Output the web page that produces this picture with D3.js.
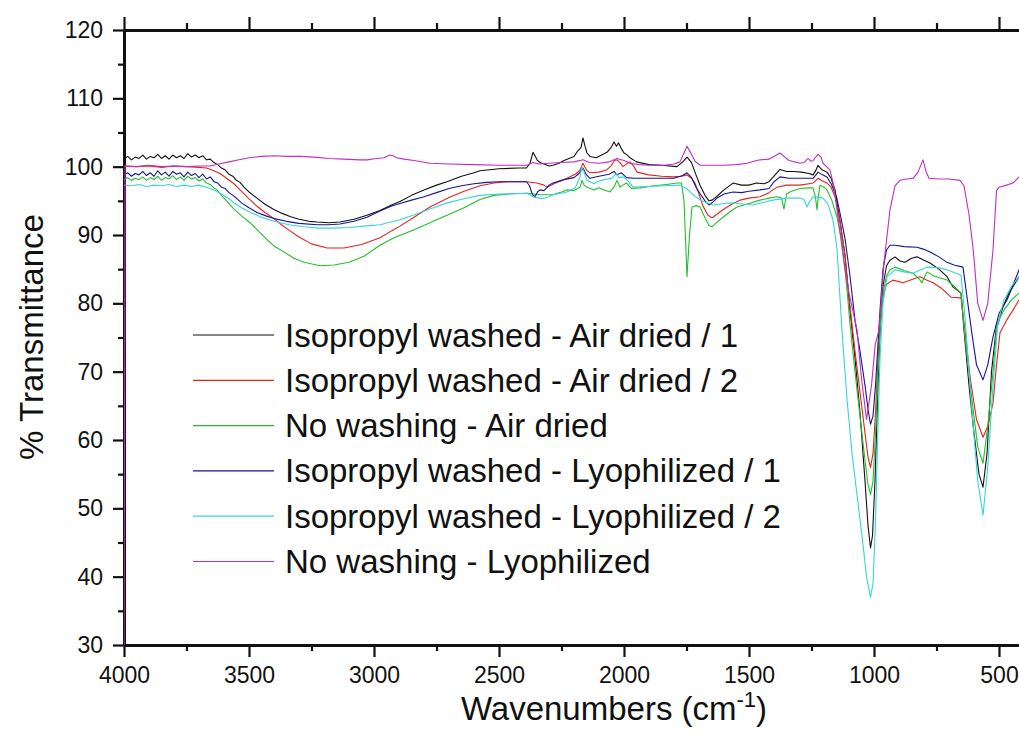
<!DOCTYPE html>
<meta charset="utf-8">
<script src="https://d3js.org/d3.v7.min.js"></script>
<style>
  body { margin: 0; background: #fff; }
  text { font-family: Arial, "Liberation Sans", sans-serif; fill: #111; }
</style>
<div id="my_dataviz"></div>
<script>

// legend labels and colours, in drawing order
var seriesNames = ["Isopropyl washed - Air dried / 1", "Isopropyl washed - Air dried / 2", "No washing - Air dried",
                   "Isopropyl washed - Lyophilized / 1", "Isopropyl washed - Lyophilized / 2", "No washing - Lyophilized"]
var seriesColors = ["#111111", "#e0251f", "#22c02a", "#16168f", "#35d6d6", "#c22ec2"]

// tick labels
var xTicks = [4000, 3500, 3000, 2500, 2000, 1500, 1000, 500]
var xMinor = [3750, 3250, 2750, 2250, 1750, 1250, 750]
var yTicks = [30, 40, 50, 60, 70, 80, 90, 100, 110, 120]
var yMinor = [35, 45, 55, 65, 75, 85, 95, 105, 115]

// spectra: [wavenumber, % transmittance]
var airDried1 = [[4000,101.2],[3985,101.5],[3970,101.0],[3955,101.4],[3940,101.2],[3925,101.7],[3910,101.1],[3895,101.5],[3880,101.3],[3865,101.8],[3850,101.2],[3835,101.6],[3820,101.1],[3805,101.7],[3790,101.3],[3775,101.6],[3760,101.2],[3745,101.9],[3730,101.4],[3715,101.7],[3700,101.3],[3685,101.6],[3670,101.0],[3655,101.1],[3640,100.6],[3625,100.3],[3610,99.8],[3595,99.5],[3580,98.9],[3565,98.6],[3550,98.0],[3536,97.7],[3520,97.0],[3500,96.3],[3468,95.4],[3436,94.5],[3404,93.8],[3370,93.2],[3336,92.7],[3300,92.3],[3260,92.0],[3228,91.9],[3180,91.8],[3136,91.9],[3080,92.3],[3028,92.9],[2976,93.6],[2930,94.4],[2896,94.9],[2850,95.8],[2800,96.6],[2750,97.3],[2708,97.8],[2650,98.6],[2600,99.1],[2576,99.4],[2500,99.7],[2420,99.8],[2390,99.8],[2376,100.5],[2364,102.1],[2356,101.6],[2348,101.0],[2336,100.6],[2320,100.4],[2300,100.1],[2284,100.2],[2260,100.5],[2240,100.9],[2220,101.2],[2200,101.5],[2185,102.3],[2172,102.8],[2164,104.2],[2156,103.0],[2148,102.0],[2136,101.5],[2110,101.3],[2090,101.7],[2068,102.1],[2050,102.9],[2040,103.6],[2030,103.0],[2022,103.5],[2010,102.6],[2000,102.0],[1990,101.8],[1976,101.3],[1950,100.7],[1900,100.3],[1850,100.2],[1788,100.0],[1765,100.7],[1748,101.4],[1730,100.6],[1712,98.8],[1695,97.2],[1676,95.8],[1660,95.0],[1648,95.1],[1630,95.6],[1600,96.6],[1564,97.6],[1530,97.3],[1500,97.3],[1470,97.6],[1440,97.5],[1420,97.8],[1400,98.6],[1376,99.6],[1350,99.3],[1320,99.3],[1290,99.2],[1260,99.0],[1244,98.8],[1232,99.5],[1224,100.2],[1210,99.6],[1188,99.2],[1172,98.3],[1156,96.6],[1136,92.0],[1116,87.0],[1096,79.0],[1076,72.0],[1056,64.0],[1036,54.0],[1024,47.5],[1014,44.2],[1006,46.0],[996,54.0],[984,68.0],[976,76.0],[964,82.5],[950,85.5],[936,86.3],[916,86.8],[896,86.2],[876,86.0],[850,86.6],[828,86.8],[800,86.3],[776,85.9],[740,85.0],[708,83.9],[684,82.4],[652,81.5],[640,76.1],[620,68.0],[600,61.0],[580,55.0],[564,53.1],[548,58.0],[530,70.0],[512,76.0],[484,79.5],[460,81.5],[420,83.9],[400,85.0]]

var airDried2 = [[4000,100.1],[3950,100.0],[3900,100.1],[3850,99.9],[3800,100.1],[3750,100.0],[3700,99.9],[3670,99.8],[3640,99.4],[3616,99.0],[3590,98.3],[3560,97.5],[3536,96.6],[3500,95.3],[3468,94.2],[3436,93.3],[3404,92.5],[3370,91.5],[3336,90.6],[3300,89.7],[3250,88.7],[3188,88.1],[3120,88.1],[3050,88.6],[2976,89.6],[2930,90.6],[2896,91.3],[2840,92.6],[2776,94.1],[2700,95.5],[2640,96.4],[2576,97.2],[2520,97.6],[2468,97.8],[2390,97.8],[2348,97.6],[2320,97.3],[2308,97.0],[2280,97.5],[2228,98.3],[2190,99.0],[2176,99.5],[2164,100.5],[2150,99.5],[2136,99.1],[2100,99.2],[2070,99.5],[2050,100.2],[2038,100.9],[2028,101.0],[2016,100.6],[2004,100.0],[1990,100.4],[1976,100.7],[1960,100.0],[1948,99.2],[1900,98.8],[1850,98.6],[1804,98.5],[1770,98.6],[1748,98.8],[1730,98.3],[1716,97.6],[1700,96.0],[1685,94.3],[1664,92.9],[1648,92.5],[1630,93.0],[1604,93.7],[1570,94.5],[1536,95.1],[1500,95.4],[1456,95.6],[1420,96.2],[1388,97.0],[1350,97.3],[1296,97.3],[1260,97.5],[1244,97.6],[1224,98.3],[1206,97.9],[1188,97.6],[1172,97.0],[1156,95.6],[1136,92.0],[1116,87.0],[1096,79.5],[1076,73.0],[1056,67.0],[1036,61.0],[1024,57.5],[1014,56.0],[1004,58.0],[994,64.0],[984,72.0],[976,77.0],[964,81.0],[950,82.8],[924,83.4],[884,83.0],[848,83.5],[816,83.9],[790,83.4],[764,83.0],[730,82.2],[692,80.9],[652,80.8],[636,76.0],[615,69.0],[590,63.0],[564,60.4],[545,62.0],[524,65.4],[510,71.0],[496,75.7],[470,77.5],[444,79.0],[420,80.5],[400,81.5]]

var noWashAir = [[4000,98.1],[3985,98.4],[3970,98.0],[3955,98.3],[3940,98.1],[3925,98.5],[3910,98.0],[3895,98.4],[3880,98.1],[3865,98.6],[3850,98.0],[3835,98.4],[3820,98.2],[3805,98.7],[3790,98.1],[3775,98.5],[3760,98.0],[3745,98.6],[3730,98.2],[3715,98.4],[3700,97.9],[3685,98.2],[3670,97.6],[3655,97.4],[3640,96.9],[3628,96.6],[3610,95.8],[3590,95.0],[3560,93.8],[3530,92.8],[3496,91.8],[3460,90.5],[3430,89.4],[3400,88.4],[3364,87.6],[3320,86.6],[3280,86.0],[3216,85.5],[3160,85.6],[3100,86.0],[3040,86.9],[2976,88.5],[2920,89.6],[2844,90.7],[2776,91.8],[2708,92.9],[2640,94.0],[2576,95.2],[2520,95.8],[2460,96.0],[2388,96.1],[2336,95.9],[2284,95.9],[2250,96.3],[2228,96.6],[2200,96.5],[2176,97.0],[2168,98.0],[2160,97.3],[2148,97.0],[2120,96.6],[2100,96.9],[2080,96.6],[2056,96.3],[2040,97.0],[2028,98.0],[2016,97.0],[2004,97.3],[1990,97.6],[1970,96.8],[1936,96.9],[1880,97.2],[1830,97.4],[1788,97.6],[1770,97.6],[1760,95.0],[1748,83.9],[1738,90.0],[1728,94.1],[1710,94.3],[1696,94.1],[1680,92.8],[1660,91.4],[1648,91.2],[1630,91.8],[1604,92.6],[1576,93.4],[1548,94.1],[1500,94.6],[1456,95.1],[1420,95.4],[1388,95.6],[1370,95.4],[1360,93.8],[1350,96.0],[1330,96.4],[1296,96.8],[1260,96.9],[1244,96.9],[1234,95.5],[1228,93.7],[1222,95.8],[1216,97.3],[1200,97.0],[1188,96.6],[1168,95.0],[1148,92.6],[1128,89.0],[1108,82.0],[1096,77.0],[1076,70.0],[1056,63.5],[1036,57.0],[1024,53.5],[1014,52.0],[1004,54.0],[994,61.0],[984,70.0],[976,76.0],[964,81.5],[950,84.0],[936,84.9],[916,85.3],[880,84.8],[844,84.4],[820,83.6],[808,83.0],[796,84.0],[788,84.6],[760,84.0],[708,83.4],[680,82.5],[652,81.5],[636,75.0],[612,67.0],[585,59.0],[564,56.6],[545,62.0],[524,70.0],[508,77.1],[480,79.0],[450,80.5],[420,81.5],[400,82.5]]

var lyophilized1 = [[4000,98.8],[3985,99.1],[3970,98.6],[3955,99.0],[3940,98.8],[3925,99.3],[3910,98.7],[3895,99.1],[3880,98.6],[3865,99.4],[3850,98.8],[3835,99.2],[3820,98.6],[3805,99.3],[3790,98.9],[3775,99.1],[3760,98.5],[3745,99.2],[3730,98.7],[3715,99.0],[3700,98.4],[3685,98.9],[3670,98.2],[3655,98.5],[3640,97.8],[3625,97.6],[3610,97.0],[3595,96.8],[3580,96.2],[3564,95.8],[3548,95.3],[3530,94.7],[3500,94.0],[3468,93.3],[3432,92.8],[3400,92.4],[3350,92.0],[3300,91.7],[3228,91.5],[3180,91.5],[3136,91.6],[3080,92.0],[3028,92.6],[2976,93.5],[2932,94.2],[2896,94.6],[2850,95.1],[2800,95.6],[2750,96.2],[2700,96.8],[2650,97.2],[2600,97.5],[2550,97.7],[2500,97.8],[2420,97.8],[2390,97.8],[2378,97.2],[2366,95.9],[2356,95.6],[2346,96.3],[2336,96.6],[2320,96.5],[2300,97.3],[2284,97.6],[2240,98.1],[2200,98.4],[2180,99.0],[2164,99.8],[2152,98.9],[2136,98.3],[2100,98.6],[2060,98.9],[2040,99.3],[2028,98.8],[2010,99.1],[1990,98.4],[1960,98.3],[1900,98.3],[1800,98.3],[1765,98.7],[1748,99.1],[1730,98.4],[1712,97.0],[1695,96.0],[1676,95.0],[1660,94.4],[1645,94.8],[1624,95.5],[1600,96.0],[1564,96.3],[1530,96.2],[1500,96.4],[1456,96.6],[1420,96.8],[1400,97.8],[1376,98.5],[1340,98.3],[1300,98.3],[1244,98.3],[1232,98.8],[1224,99.2],[1206,98.8],[1188,98.5],[1170,97.4],[1150,95.6],[1136,93.2],[1116,89.5],[1096,84.0],[1076,77.5],[1056,73.0],[1036,68.0],[1024,64.5],[1014,62.3],[1004,63.5],[994,68.0],[984,74.0],[976,79.0],[964,85.0],[950,87.8],[936,88.5],[916,88.5],[880,88.3],[828,88.2],[800,87.9],[776,87.5],[740,86.8],[708,86.0],[680,85.6],[644,85.3],[628,80.9],[610,76.0],[590,71.0],[564,68.8],[545,71.0],[524,75.1],[500,78.5],[468,80.5],[440,83.0],[420,84.9],[400,86.0]]

var lyophilized2 = [[4000,97.3],[3970,97.2],[3940,97.4],[3910,97.1],[3880,97.3],[3850,97.2],[3820,97.4],[3790,97.1],[3760,97.3],[3730,97.1],[3700,97.3],[3670,97.0],[3640,96.6],[3610,96.0],[3580,95.3],[3564,94.8],[3530,94.0],[3500,93.4],[3450,92.6],[3400,92.0],[3340,91.5],[3280,91.2],[3220,91.0],[3164,91.0],[3100,91.1],[3040,91.3],[2976,91.5],[2900,92.2],[2844,92.9],[2776,93.8],[2708,94.7],[2640,95.3],[2576,95.8],[2500,96.0],[2388,96.1],[2364,95.6],[2340,95.4],[2324,95.3],[2300,95.6],[2284,95.9],[2228,96.3],[2195,96.9],[2176,98.5],[2168,100.0],[2156,98.8],[2148,98.0],[2120,97.5],[2108,97.8],[2080,98.1],[2050,98.3],[2030,99.0],[2020,98.4],[2004,98.5],[1985,98.0],[1964,97.0],[1900,97.1],[1840,97.2],[1776,97.3],[1750,96.8],[1724,95.9],[1690,95.0],[1644,94.4],[1600,94.6],[1564,94.7],[1520,94.5],[1484,94.4],[1440,94.8],[1404,95.1],[1350,95.4],[1296,95.4],[1280,95.2],[1268,94.1],[1256,95.0],[1244,95.6],[1224,95.5],[1204,95.4],[1184,94.5],[1164,92.2],[1148,88.0],[1128,76.0],[1108,66.0],[1088,58.0],[1068,52.0],[1048,46.0],[1030,40.0],[1014,37.0],[1004,39.0],[994,48.0],[984,62.0],[976,72.0],[964,80.0],[948,83.9],[916,84.9],[880,84.6],[844,84.4],[788,85.3],[740,85.2],[708,84.9],[680,84.5],[652,84.1],[636,78.0],[612,66.0],[585,54.0],[564,49.0],[545,56.0],[524,68.0],[505,77.0],[480,80.5],[450,82.5],[420,83.9],[400,84.5]]

var noWashLyo = [[4000,22],[3996,100.1],[3950,100.0],[3900,100.2],[3850,100.0],[3800,100.1],[3750,100.0],[3700,100.1],[3656,100.1],[3620,100.4],[3580,100.7],[3540,101.0],[3500,101.3],[3450,101.5],[3400,101.6],[3350,101.5],[3296,101.5],[3240,101.4],[3180,101.2],[3120,101.1],[3060,101.0],[3028,101.0],[2990,101.2],[2960,101.3],[2936,101.7],[2924,101.6],[2910,101.3],[2880,101.1],[2840,100.9],[2776,100.5],[2700,100.4],[2600,100.3],[2500,100.2],[2388,100.2],[2364,100.6],[2340,100.4],[2300,100.5],[2250,100.6],[2200,100.7],[2164,101.0],[2140,100.6],[2100,100.5],[2060,100.7],[2028,101.2],[2000,100.9],[1976,100.5],[1940,100.3],[1900,100.2],[1840,100.2],[1800,100.4],[1776,100.7],[1760,102.0],[1748,103.0],[1730,101.8],[1716,100.8],[1696,100.2],[1650,100.2],[1600,100.2],[1550,100.3],[1508,100.5],[1480,100.8],[1456,101.0],[1420,101.1],[1395,101.6],[1376,102.0],[1360,101.5],[1340,100.9],[1296,100.5],[1280,100.6],[1264,101.2],[1252,100.8],[1244,100.9],[1224,101.8],[1212,101.4],[1204,100.5],[1190,100.0],[1176,99.5],[1160,97.0],[1140,91.5],[1120,86.0],[1100,81.5],[1068,76.1],[1050,69.0],[1030,63.0],[1010,68.0],[995,74.0],[980,76.1],[960,86.0],[936,93.7],[916,97.2],[896,98.0],[870,98.2],[844,98.3],[824,99.2],[804,101.0],[792,99.3],[780,98.3],[740,98.2],[700,98.2],[656,98.0],[640,97.2],[620,93.0],[603,87.8],[585,80.0],[564,77.5],[545,80.0],[524,87.8],[510,96.5],[500,97.0],[470,97.3],[444,97.6],[420,98.5],[400,98.6]]

var allSeries = [airDried1, airDried2, noWashAir, lyophilized1, lyophilized2, noWashLyo]

// dimensions of the page and the plot frame (right part of the frame runs off the page)
var width = 1019,
    height = 751
var plotLeft = 124, plotRight = 1024, plotTop = 30, plotBottom = 645

var svg = d3.select("#my_dataviz")
  .append("svg")
    .attr("width", width)
    .attr("height", height)

var x = d3.scaleLinear().domain([4000, 400]).range([plotLeft, plotRight])
var y = d3.scaleLinear().domain([30, 120]).range([plotBottom, plotTop])

// clip for the spectra
svg.append("clipPath").attr("id", "clip")
  .append("rect")
    .attr("x", plotLeft).attr("y", plotTop)
    .attr("width", plotRight - plotLeft).attr("height", plotBottom - plotTop)

function styleAxis(g, lineWidth) {
  g.select(".domain").attr("stroke", "#111").attr("stroke-width", lineWidth)
  g.selectAll(".tick line").attr("stroke", "#111").attr("stroke-width", 2.2)
  g.selectAll(".tick text").style("font-size", "23px").attr("fill", "#111")
}

// bottom axis
svg.append("g")
  .attr("transform", "translate(0," + plotBottom + ")")
  .call(d3.axisBottom(x).tickValues(xMinor).tickSize(6).tickSizeOuter(0).tickFormat(""))
  .call(function(g) { styleAxis(g, 3) })
svg.append("g")
  .attr("transform", "translate(0," + plotBottom + ")")
  .call(d3.axisBottom(x).tickValues(xTicks).tickSize(12).tickSizeOuter(0).tickPadding(10).tickFormat(d3.format("d")))
  .call(function(g) { styleAxis(g, 3) })

// top axis, ticks only
svg.append("g")
  .attr("transform", "translate(0," + plotTop + ")")
  .call(d3.axisTop(x).tickValues(xMinor).tickSize(7).tickSizeOuter(0).tickFormat(""))
  .call(function(g) { styleAxis(g, 3) })
svg.append("g")
  .attr("transform", "translate(0," + plotTop + ")")
  .call(d3.axisTop(x).tickValues(xTicks).tickSize(13).tickSizeOuter(0).tickFormat(""))
  .call(function(g) { styleAxis(g, 3) })

// left axis
svg.append("g")
  .attr("transform", "translate(" + plotLeft + ",0)")
  .call(d3.axisLeft(y).tickValues(yMinor).tickSize(6).tickSizeOuter(0).tickFormat(""))
  .call(function(g) { styleAxis(g, 3) })
svg.append("g")
  .attr("transform", "translate(" + plotLeft + ",0)")
  .call(d3.axisLeft(y).tickValues(yTicks).tickSize(11).tickSizeOuter(0).tickPadding(10))
  .call(function(g) { styleAxis(g, 3) })

// the spectra
var line = d3.line()
  .x(function(d) { return x(d[0]) })
  .y(function(d) { return y(d[1]) })

svg.append("g")
  .attr("clip-path", "url(#clip)")
  .selectAll("path")
  .data(allSeries)
  .enter()
  .append("path")
    .attr("d", line)
    .attr("fill", "none")
    .attr("stroke", function(d, i) { return seriesColors[i] })
    .attr("stroke-width", 1.1)
    .attr("stroke-linejoin", "round")

// legend
var legend = svg.append("g")
  .selectAll("g")
  .data(seriesNames)
  .enter()
  .append("g")
    .attr("transform", function(d, i) { return "translate(0," + (335 + i * 45.3) + ")" })

legend.append("line")
  .attr("x1", 193).attr("x2", 274)
  .attr("stroke", function(d, i) { return seriesColors[i] })
  .attr("stroke-width", 1.2)

legend.append("text")
  .attr("x", 285)
  .attr("y", 11.5)
  .style("font-size", "33px")
  .text(function(d) { return d })

// axis titles
svg.append("text")
  .attr("transform", "translate(43,337) rotate(-90)")
  .attr("text-anchor", "middle")
  .style("font-size", "33px")
  .text("% Transmittance")

var xTitle = svg.append("text")
  .attr("x", 614)
  .attr("y", 720)
  .attr("text-anchor", "middle")
  .style("font-size", "33px")
xTitle.append("tspan").text("Wavenumbers (cm")
xTitle.append("tspan").attr("dy", -13).style("font-size", "22px").text("-1")
xTitle.append("tspan").attr("dy", 13).text(")")

</script>
